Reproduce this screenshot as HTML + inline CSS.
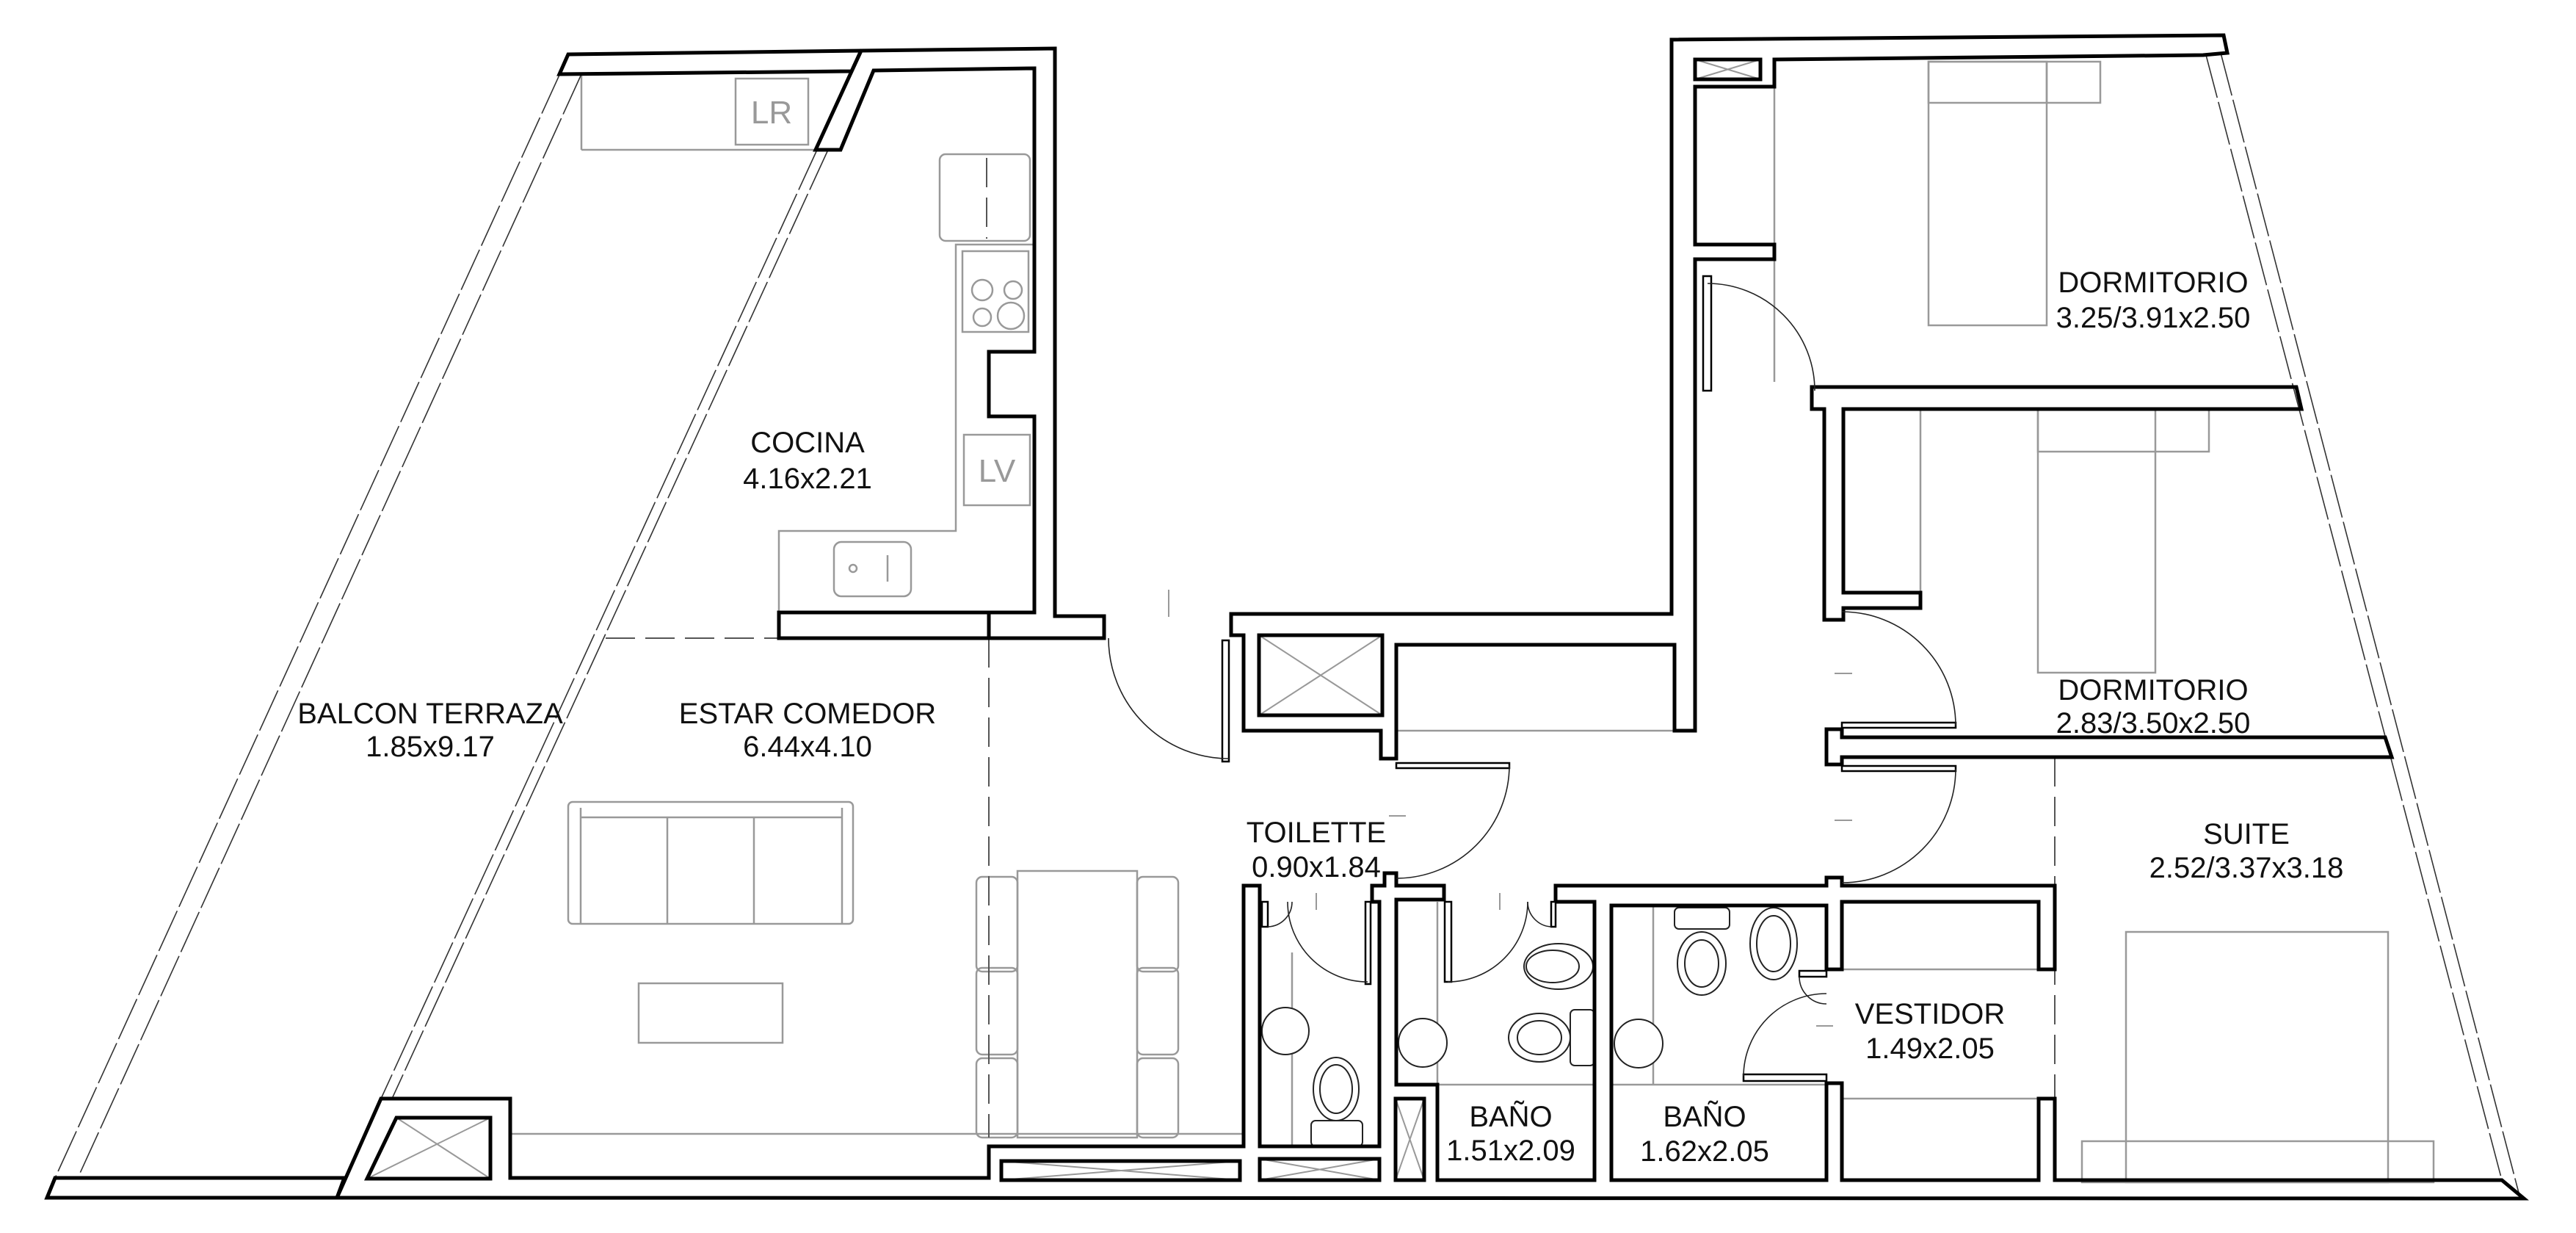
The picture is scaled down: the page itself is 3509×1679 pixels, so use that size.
<!DOCTYPE html>
<html><head><meta charset="utf-8"><style>
html,body{margin:0;padding:0;background:#fff;}
svg{display:block;}
text{font-family:"Liberation Sans",sans-serif;fill:#111;}
</style></head><body>
<svg width="3509" height="1679" viewBox="0 0 3509 1679" xmlns="http://www.w3.org/2000/svg">
<rect width="3509" height="1679" fill="#fff"/>
<!-- gray furniture / thin lines -->
<g stroke="#999" stroke-width="2.5" fill="none">
  <rect x="1002" y="107" width="99" height="90"/>
  <line x1="792" y1="101" x2="792" y2="204"/>
  <line x1="792" y1="204" x2="1111" y2="204"/>
  <polyline points="1061,834 1061,723 1302,723 1302,333 1409,333"/>
  <rect x="1280" y="210" width="123" height="118" rx="8"/>
  <rect x="1311" y="342" width="90" height="110"/>
  <circle cx="1338" cy="395" r="14"/><circle cx="1380" cy="395" r="12"/>
  <circle cx="1338" cy="432" r="12"/><circle cx="1377" cy="430" r="18"/>
  <rect x="1313" y="592" width="90" height="96"/>
  <rect x="1136" y="738" width="105" height="74" rx="10"/>
  <circle cx="1162" cy="774" r="5"/><line x1="1209" y1="756" x2="1209" y2="792"/>
  <!-- sofa -->
  <rect x="774" y="1092" width="388" height="166" rx="6"/>
  <line x1="791" y1="1113" x2="1147" y2="1113"/>
  <line x1="791" y1="1100" x2="791" y2="1258"/><line x1="1147" y1="1100" x2="1147" y2="1258"/>
  <line x1="909" y1="1113" x2="909" y2="1258"/><line x1="1027" y1="1113" x2="1027" y2="1258"/>
  <rect x="870" y="1339" width="196" height="81"/>
  <!-- dining -->
  <rect x="1386" y="1186" width="163" height="363"/>
  <rect x="1330" y="1194" width="56" height="129" rx="8"/><rect x="1330" y="1318" width="56" height="118" rx="8"/><rect x="1330" y="1441" width="56" height="108" rx="8"/>
  <rect x="1549" y="1194" width="56" height="129" rx="8"/><rect x="1549" y="1318" width="56" height="118" rx="8"/><rect x="1549" y="1441" width="56" height="108" rx="8"/>
  <line x1="695" y1="1544" x2="1694" y2="1544"/>
  <line x1="1902" y1="995" x2="2281" y2="995"/>
  <!-- bathrooms -->
  <line x1="1760" y1="1297" x2="1760" y2="1561"/>
  <line x1="1958" y1="1228" x2="1958" y2="1477"/>
  <line x1="1958" y1="1477" x2="2172" y2="1477"/>
  <line x1="2252" y1="1233" x2="2252" y2="1477"/>
  <line x1="2195" y1="1477" x2="2488" y2="1477"/>
  <line x1="2509" y1="1320" x2="2777" y2="1320"/>
  <line x1="2509" y1="1496" x2="2777" y2="1496"/>
  <!-- beds -->
  <rect x="2627" y="84" width="161" height="359"/><rect x="2627" y="84" width="234" height="56"/><line x1="2788" y1="84" x2="2788" y2="140"/>
  <line x1="2417" y1="118" x2="2417" y2="520"/>
  <rect x="2776" y="557" width="160" height="359"/><rect x="2776" y="557" width="233" height="58"/>
  <line x1="2616" y1="557" x2="2616" y2="807"/>
  <rect x="2896" y="1269" width="357" height="341"/><rect x="2836" y="1554" width="479" height="56"/>
</g>
<g stroke="#222" stroke-width="2" fill="#fff">
  <circle cx="1751" cy="1404" r="32"/>
  <circle cx="1938" cy="1420" r="33"/>
  <circle cx="2232" cy="1421" r="33"/>
  <ellipse cx="1820" cy="1483" rx="31" ry="43"/><ellipse cx="1820" cy="1483" rx="22" ry="33"/>
  <rect x="1786" y="1526" width="70" height="35" rx="6"/>
  <ellipse cx="2123" cy="1316" rx="47" ry="31"/><ellipse cx="2115" cy="1316" rx="36" ry="22"/>
  <ellipse cx="2097" cy="1413" rx="42" ry="33"/><ellipse cx="2097" cy="1413" rx="30" ry="23"/>
  <rect x="2139" y="1375" width="33" height="76" rx="6"/>
  <rect x="2281" y="1236" width="75" height="29" rx="6"/>
  <ellipse cx="2318" cy="1312" rx="33" ry="43"/><ellipse cx="2318" cy="1312" rx="23" ry="32"/>
  <ellipse cx="2416" cy="1285" rx="32" ry="49"/><ellipse cx="2416" cy="1285" rx="23" ry="38"/>
</g>
<!-- dashed lines -->
<g stroke="#555" stroke-width="2" fill="none" stroke-dasharray="40,14">
  <line x1="825" y1="869" x2="1061" y2="869"/>
  <line x1="1347" y1="869" x2="1347" y2="1549"/>
  <line x1="2799" y1="1031" x2="2799" y2="1496"/>
  <line x1="1344" y1="215" x2="1344" y2="325"/>
</g>
<g stroke="#999" stroke-width="2">
  <line x1="1592" y1="803" x2="1592" y2="840"/><line x1="1892" y1="1111" x2="1915" y2="1111"/>
  <line x1="1793" y1="1216" x2="1793" y2="1239"/><line x1="2043" y1="1216" x2="2043" y2="1239"/>
  <line x1="2499" y1="917" x2="2523" y2="917"/><line x1="2499" y1="1117" x2="2523" y2="1117"/>
  <line x1="2474" y1="1397" x2="2497" y2="1397"/>
</g>
<!-- balcony / facade thin double lines -->
<g stroke="#333" stroke-width="1.6" fill="none" stroke-dasharray="60,6">
  <line x1="763" y1="100" x2="75" y2="1604"/>
  <line x1="792" y1="101" x2="106" y2="1604"/>
  <line x1="1113" y1="204" x2="519" y2="1496"/>
  <line x1="1128" y1="204" x2="534" y2="1496"/>
  <line x1="3005" y1="75" x2="3408" y2="1607"/>
  <line x1="3025" y1="72" x2="3432" y2="1628"/>
</g>
<!-- shaft X boxes -->
<g stroke="#999" stroke-width="2">
  <line x1="540" y1="1522" x2="668" y2="1605"/><line x1="500" y1="1605" x2="668" y2="1522"/>
  <line x1="1715" y1="865" x2="1883" y2="974"/><line x1="1715" y1="974" x2="1883" y2="865"/>
  <line x1="2309" y1="81" x2="2398" y2="108"/><line x1="2309" y1="108" x2="2398" y2="81"/>
  <line x1="1364" y1="1581" x2="1689" y2="1607"/><line x1="1364" y1="1607" x2="1689" y2="1581"/>
  <line x1="1716" y1="1578" x2="1879" y2="1607"/><line x1="1716" y1="1607" x2="1879" y2="1578"/>
  <line x1="1901" y1="1496" x2="1940" y2="1607"/><line x1="1940" y1="1496" x2="1901" y2="1607"/>
</g>
<!-- walls -->
<g stroke="#000" stroke-width="5" fill="none" stroke-linejoin="miter">
  <polygon points="774,74 1173,69 1160,97 762,101"/>
  <polygon points="1173,69 1437,66 1437,839 1504,839 1504,869 1347,869 1347,834 1409,834 1409,567 1347,567 1347,479 1409,479 1409,93 1190,96 1145,204 1111,204"/>
  <rect x="1061" y="834" width="286" height="35"/>
  <polygon points="75,1604 469,1604 459,1631 64,1631"/>
  <polygon points="459,1631 519,1496 695,1496 695,1604 1347,1604 1347,1561 1694,1561 1694,1206 1716,1206 1716,1561 1879,1561 1879,1228 1869,1228 1869,1206 1886,1206 1886,1189 1902,1189 1902,1206 1967,1206 1967,1225 1902,1225 1902,1477 1958,1477 1958,1607 2172,1607 2172,1228 2119,1228 2119,1206 2488,1206 2488,1195 2509,1195 2509,1206 2799,1206 2799,1320 2777,1320 2777,1228 2509,1228 2509,1320 2488,1320 2488,1233 2195,1233 2195,1607 2488,1607 2488,1475 2509,1475 2509,1607 2777,1607 2777,1496 2799,1496 2799,1607 3408,1607 3438,1632"/>
  <polygon points="540,1522 668,1522 668,1605 500,1605"/>
  <rect x="1364" y="1581" width="325" height="26"/>
  <rect x="1716" y="1578" width="163" height="29"/>
  <rect x="1901" y="1496" width="39" height="111"/>
  <polygon points="1677,836 2277,836 2277,54 3029,48 3034,72 3001,75 2417,81 2417,118 2309,118 2309,333 2417,333 2417,353 2309,353 2309,995 2281,995 2281,878 1902,878 1902,1033 1881,1033 1881,995 1694,995 1694,865 1677,865"/>
  <rect x="1715" y="865" width="168" height="109"/>
  <rect x="2309" y="81" width="89" height="27"/>
  <polygon points="2468,527 3128,527 3135,557 2511,557 2511,807 2616,807 2616,828 2511,828 2511,844 2485,844 2485,557 2468,557"/>
  <polygon points="2488,993 2509,993 2509,1004 3249,1004 3258,1031 2509,1031 2509,1041 2488,1041"/>
</g>
<!-- doors -->
<g stroke="#000" stroke-width="2.5" fill="#fff">
  <rect x="1665" y="872" width="9" height="165"/>
  <rect x="1902" y="1039" width="154" height="7"/>
  <rect x="2320" y="376" width="11" height="156"/>
  <rect x="2509" y="984" width="155" height="7"/>
  <rect x="2509" y="1043" width="155" height="7"/>
  <rect x="2375" y="1463" width="113" height="9"/>
  <rect x="2451" y="1322" width="37" height="8"/>
  <rect x="1860" y="1228" width="7" height="112"/>
  <rect x="1719" y="1228" width="8" height="34"/>
  <rect x="1968" y="1228" width="9" height="109"/>
  <rect x="2113" y="1228" width="6" height="34"/>
</g>
<g stroke="#222" stroke-width="1.6" fill="none">
  <path d="M1510,869 A164,164 0 0 0 1674,1033"/>
  <path d="M2056,1042 A154,154 0 0 1 1902,1196"/>
  <path d="M2326,386 A146,146 0 0 1 2472,532"/>
  <path d="M2664,988 A155,155 0 0 0 2509,833"/>
  <path d="M2664,1047 A155,155 0 0 1 2509,1202"/>
  <path d="M2375,1466 A113,113 0 0 1 2488,1353"/>
  <path d="M2451,1330 A37,37 0 0 0 2488,1367"/>
  <path d="M1863,1337 A109,109 0 0 1 1754,1228"/>
  <path d="M1972,1337 A109,109 0 0 0 2081,1228"/>
  <path d="M1727,1262 A34,34 0 0 0 1760,1228"/>
  <path d="M2113,1262 A34,34 0 0 1 2081,1228"/>
</g>
<!-- labels -->
<g font-size="40" text-anchor="middle">
  <text x="1100" y="616">COCINA</text><text x="1100" y="665">4.16x2.21</text>
  <text x="586" y="985">BALCON TERRAZA</text><text x="586" y="1030">1.85x9.17</text>
  <text x="1100" y="985">ESTAR COMEDOR</text><text x="1100" y="1030">6.44x4.10</text>
  <text x="1793" y="1147">TOILETTE</text><text x="1793" y="1194">0.90x1.84</text>
  <text x="2933" y="398">DORMITORIO</text><text x="2933" y="446">3.25/3.91x2.50</text>
  <text x="2933" y="953">DORMITORIO</text><text x="2933" y="998">2.83/3.50x2.50</text>
  <text x="3060" y="1149">SUITE</text><text x="3060" y="1195">2.52/3.37x3.18</text>
  <text x="2629" y="1394">VESTIDOR</text><text x="2629" y="1441">1.49x2.05</text>
  <text x="2058" y="1534">BAÑO</text><text x="2058" y="1580">1.51x2.09</text>
  <text x="2322" y="1534">BAÑO</text><text x="2322" y="1581">1.62x2.05</text>
</g>
<g font-size="44" text-anchor="middle" style="fill:#999">
  <text x="1051" y="168" style="fill:#999">LR</text>
  <text x="1358" y="656" style="fill:#999">LV</text>
</g>
</svg>
</body></html>
